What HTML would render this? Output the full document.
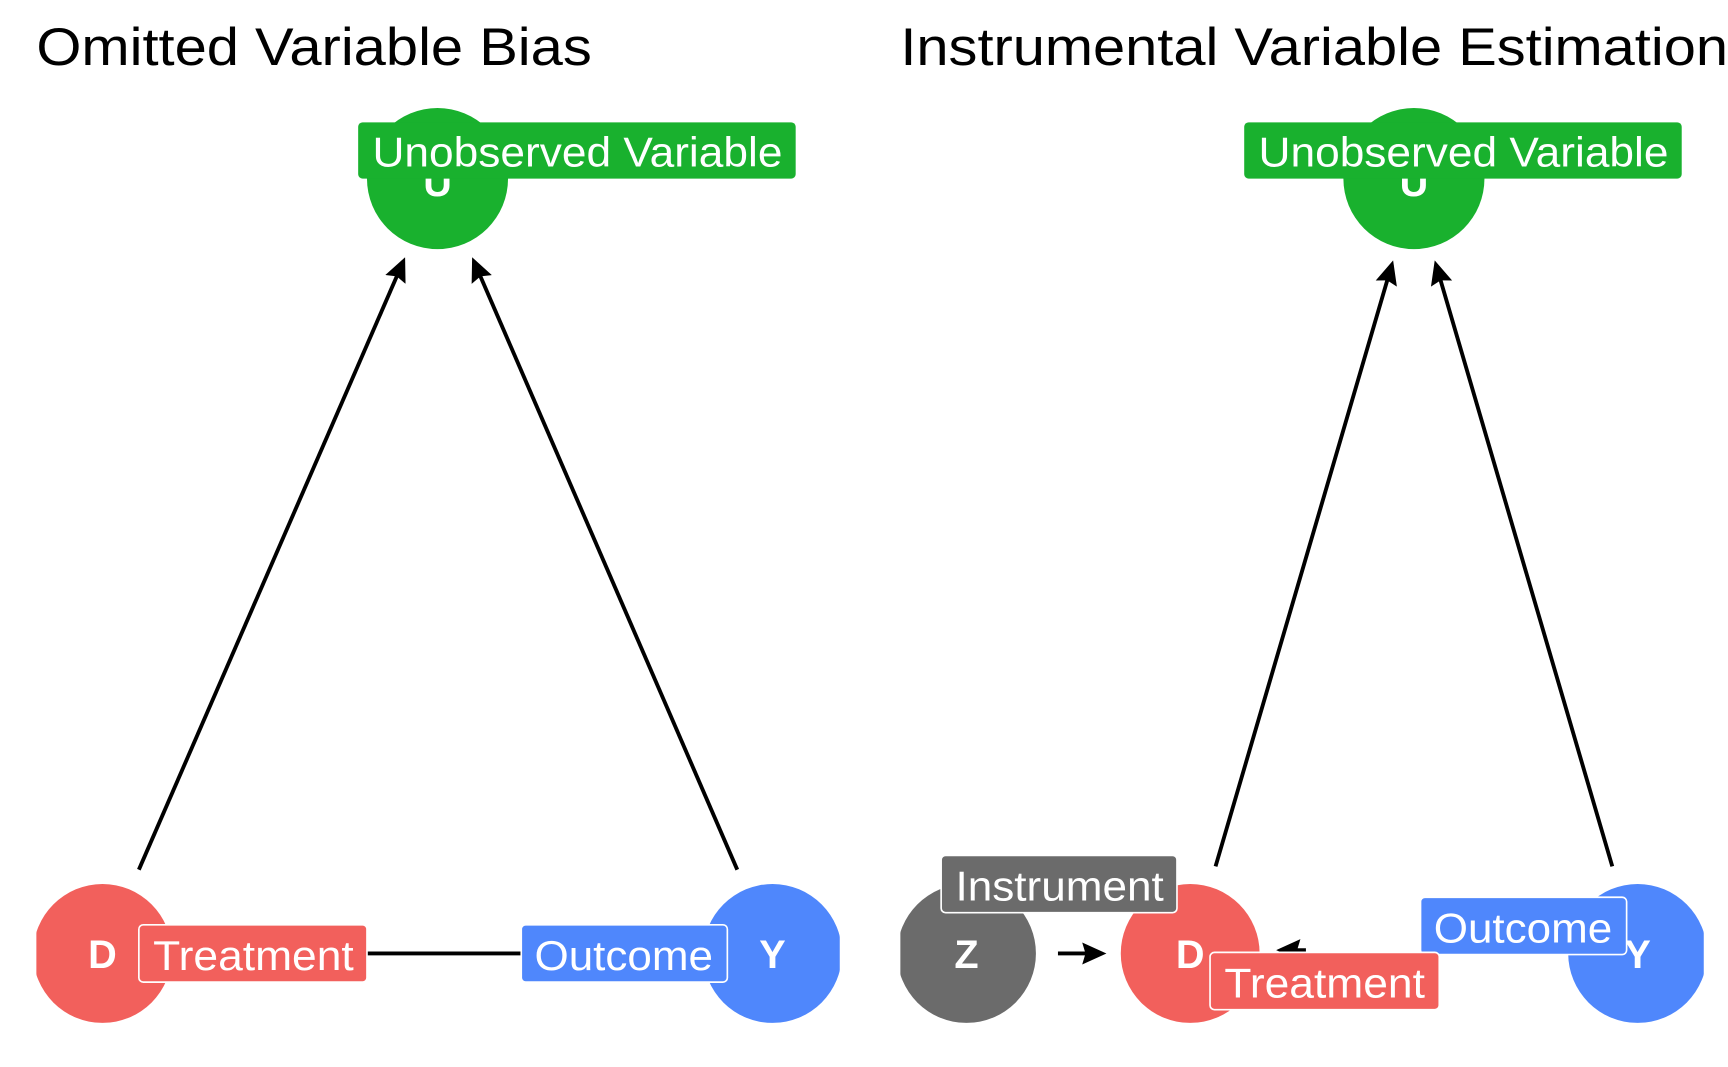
<!DOCTYPE html>
<html><head><style>html,body{margin:0;padding:0;background:#fff;overflow:hidden}svg{display:block}</style></head>
<body>
<svg width="1728" height="1067" viewBox="0 0 1568 968" preserveAspectRatio="none" xmlns="http://www.w3.org/2000/svg" font-family="Liberation Sans, Arial, sans-serif">
<defs>
<clipPath id="cl"><rect x="33" y="0" width="729" height="968"/></clipPath>
<clipPath id="cr"><rect x="817" y="0" width="729" height="968"/></clipPath>
<marker id="ah2" markerWidth="22" markerHeight="22" refX="18" refY="11" orient="auto" markerUnits="userSpaceOnUse" viewBox="0 0 22 22"><path d="M0,1 L22,11 L0,21 L3,11 Z" fill="#000"/></marker>
</defs>
<text x="33" y="59" font-size="48" textLength="504" lengthAdjust="spacingAndGlyphs">Omitted Variable Bias</text>
<text x="817" y="59" font-size="48" textLength="751" lengthAdjust="spacingAndGlyphs">Instrumental Variable Estimation</text>
<g clip-path="url(#cl)">
<line x1="126" y1="789" x2="366" y2="237" stroke="#000" stroke-width="3.5" marker-end="url(#ah2)"/>
<line x1="669" y1="789" x2="430" y2="237" stroke="#000" stroke-width="3.5" marker-end="url(#ah2)"/>
<line x1="160" y1="865" x2="640" y2="865" stroke="#000" stroke-width="3.5"/>
<circle cx="397" cy="162" r="64" fill="#19b12e"/>
<circle cx="93" cy="865" r="63" fill="#f2605c"/>
<circle cx="701" cy="865" r="63" fill="#4f87fc"/>
<text x="397" y="178" font-size="36" font-weight="bold" fill="#fff" text-anchor="middle">U</text>
<text x="93" y="878" font-size="36" font-weight="bold" fill="#fff" text-anchor="middle">D</text>
<text x="701" y="878" font-size="36" font-weight="bold" fill="#fff" text-anchor="middle">Y</text>
</g>
<rect x="325" y="111" width="397" height="51" rx="4" fill="#19b12e"/>
<text x="338" y="151" font-size="38" fill="#fff" textLength="372" lengthAdjust="spacingAndGlyphs">Unobserved Variable</text>
<rect x="126" y="839" width="207" height="52" rx="4" fill="#f2605c" stroke="#fff" stroke-width="1.5"/>
<text x="139" y="880" font-size="38" fill="#fff" textLength="182" lengthAdjust="spacingAndGlyphs">Treatment</text>
<rect x="473" y="839" width="187" height="52" rx="4" fill="#4f87fc" stroke="#fff" stroke-width="1.5"/>
<text x="485" y="880" font-size="38" fill="#fff" textLength="162" lengthAdjust="spacingAndGlyphs">Outcome</text>
<g clip-path="url(#cr)">
<line x1="1103" y1="786" x2="1263" y2="240" stroke="#000" stroke-width="3.5" marker-end="url(#ah2)"/>
<line x1="1463" y1="786" x2="1303" y2="240" stroke="#000" stroke-width="3.5" marker-end="url(#ah2)"/>
<line x1="960" y1="865" x2="1000" y2="865" stroke="#000" stroke-width="3.5" marker-end="url(#ah2)"/>
<line x1="1185" y1="862" x2="1162" y2="862" stroke="#000" stroke-width="3.5" marker-end="url(#ah2)"/>
<circle cx="1283" cy="162" r="64" fill="#19b12e"/>
<circle cx="877" cy="865" r="63" fill="#6b6b6b"/>
<circle cx="1080" cy="865" r="63" fill="#f2605c"/>
<circle cx="1486" cy="865" r="63" fill="#4f87fc"/>
<text x="1283" y="178" font-size="36" font-weight="bold" fill="#fff" text-anchor="middle">U</text>
<text x="877" y="878" font-size="36" font-weight="bold" fill="#fff" text-anchor="middle">Z</text>
<text x="1080" y="878" font-size="36" font-weight="bold" fill="#fff" text-anchor="middle">D</text>
<text x="1486" y="878" font-size="36" font-weight="bold" fill="#fff" text-anchor="middle">Y</text>
</g>
<rect x="1129" y="111" width="397" height="51" rx="4" fill="#19b12e"/>
<text x="1142" y="151" font-size="38" fill="#fff" textLength="372" lengthAdjust="spacingAndGlyphs">Unobserved Variable</text>
<rect x="854" y="776" width="214" height="52" rx="4" fill="#6b6b6b" stroke="#fff" stroke-width="1.5"/>
<text x="867" y="817" font-size="38" fill="#fff" textLength="189" lengthAdjust="spacingAndGlyphs">Instrument</text>
<rect x="1289" y="814" width="187" height="52" rx="4" fill="#4f87fc" stroke="#fff" stroke-width="1.5"/>
<text x="1301" y="855" font-size="38" fill="#fff" textLength="162" lengthAdjust="spacingAndGlyphs">Outcome</text>
<rect x="1098" y="864" width="208" height="52" rx="4" fill="#f2605c" stroke="#fff" stroke-width="1.5"/>
<text x="1111" y="905" font-size="38" fill="#fff" textLength="182" lengthAdjust="spacingAndGlyphs">Treatment</text>
</svg>
</body></html>
